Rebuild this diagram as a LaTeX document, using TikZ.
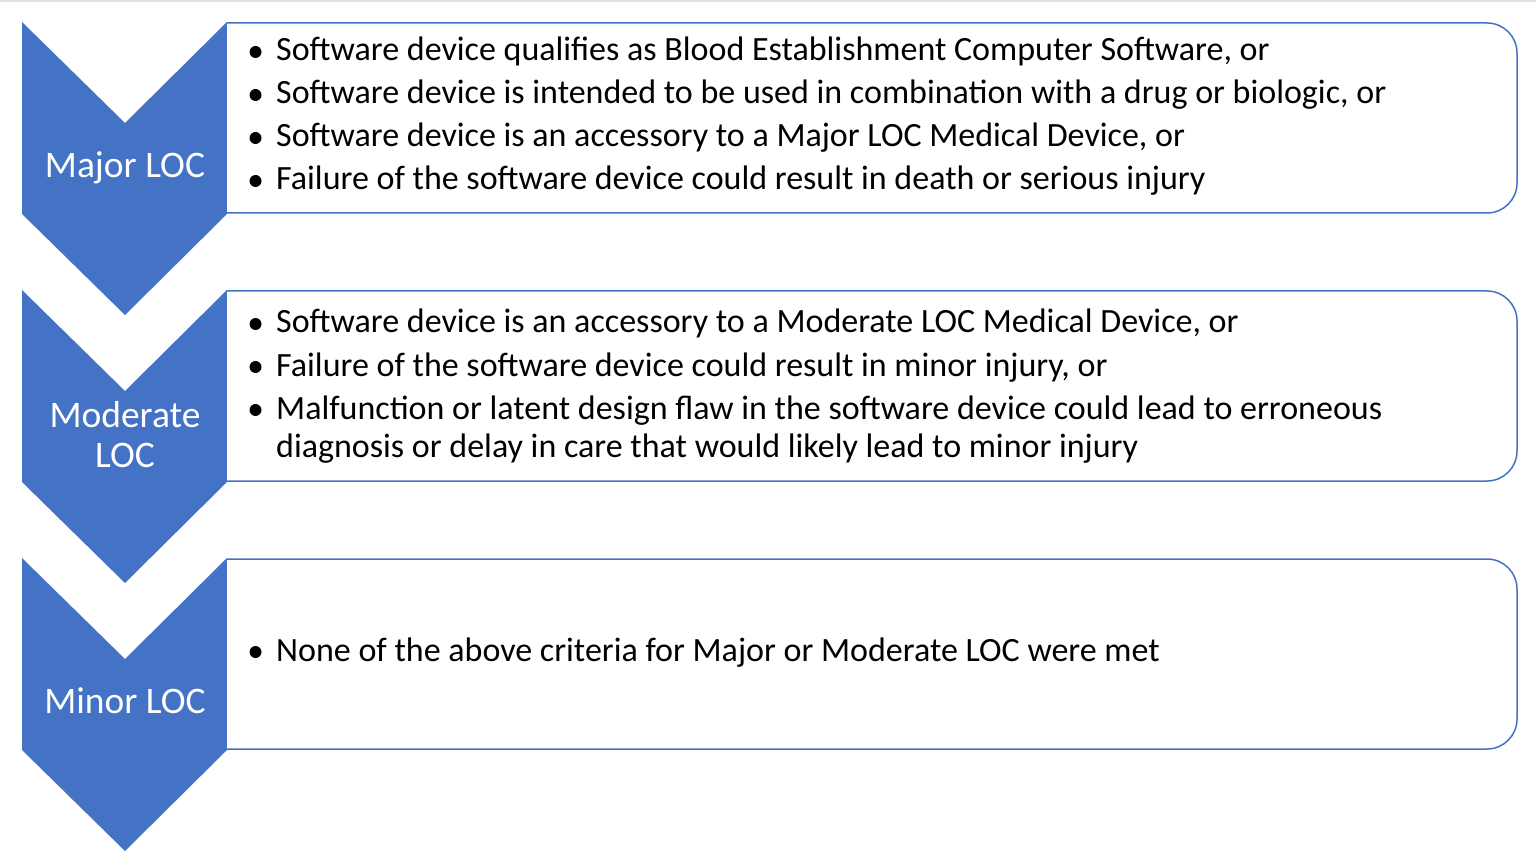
\documentclass[tikz,border=0pt]{standalone}
\usepackage{fontspec}
\setmainfont{Carlito}
\definecolor{locblue}{HTML}{4472C4}
\definecolor{topgray}{HTML}{E2E2E2}
\tikzset{
  chevron/.style={fill=locblue, draw=none},
  listbox/.style={draw=locblue, line width=1.5pt, fill=white},
  item/.style={anchor=base west, inner sep=0pt, font=\fontsize{34}{40}\selectfont, text=black},
  dot/.style={circle, fill=black, inner sep=0pt, minimum size=12pt},
  loclabel/.style={anchor=base, inner sep=0pt, font=\fontsize{37.5}{42}\selectfont, text=white, align=center},
}
\begin{document}
\begin{tikzpicture}[x=1pt,y=1pt]
\useasboundingbox (0,0) rectangle (1536,-866);
\fill[topgray] (0,0) rectangle (1536,-2);
% chevrons
\foreach \T/\n in {22/a,290/b,558/c}{
  \fill[chevron] (22,-\T) -- (125,-\T-101) -- (227,-\T) -- (227,-\T-192) -- (125,-\T-293) -- (22,-\T-192) -- cycle;
  \draw[listbox] (227,-\T-1) -- (1487,-\T-1) arc(90:0:30) -- (1517,-\T-161) arc(0:-90:30) -- (227,-\T-191);
}
% labels
\node[loclabel] (major) at (125,-178) {Major LOC};
\node[loclabel] (moderate) at (125,-427) {Moderate};
\node[loclabel] (moderate2) at (125,-467) {LOC};
\node[loclabel] (minor) at (125,-713) {Minor LOC};
% box 1
\node[dot] (b1) at (255.5,-52) {};
\node[item] (t1) at (276,-61) {Software device qualifies as Blood Establishment Computer Software, or};
\node[dot] (b2) at (255.5,-95) {};
\node[item] (t2) at (276,-104) {Software device is intended to be used in combination with a drug or biologic, or};
\node[dot] (b3) at (255.5,-138) {};
\node[item] (t3) at (276,-147) {Software device is an accessory to a Major LOC Medical Device, or};
\node[dot] (b4) at (255.5,-181) {};
\node[item] (t4) at (276,-190) {Failure of the software device could result in death or serious injury};
% box 2
\node[dot] (b5) at (255.5,-324) {};
\node[item] (t5) at (276,-333) {Software device is an accessory to a Moderate LOC Medical Device, or};
\node[dot] (b6) at (255.5,-367) {};
\node[item] (t6) at (276,-376) {Failure of the software device could result in minor injury, or};
\node[dot] (b7) at (255.5,-410) {};
\node[item] (t7) at (276,-419) {Malfunction or latent design flaw in the software device could lead to erroneous};
\node[item] (t8) at (276,-457) {diagnosis or delay in care that would likely lead to minor injury};
% box 3
\node[dot] (b9) at (255.5,-652) {};
\node[item] (t9) at (276,-661) {None of the above criteria for Major or Moderate LOC were met};
\end{tikzpicture}
\end{document}
